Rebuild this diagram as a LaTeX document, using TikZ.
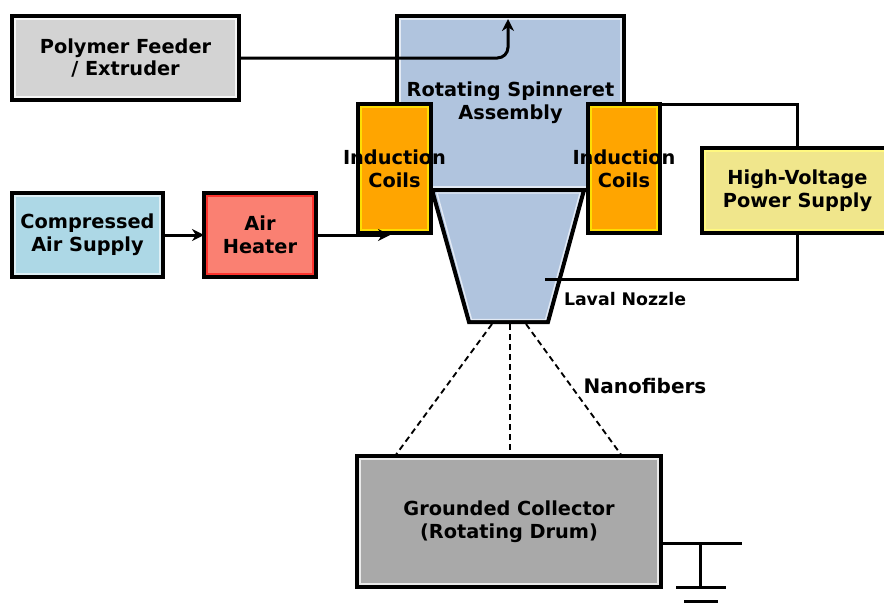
\documentclass[tikz,border=0pt]{standalone}
\usepackage{fontspec}
\setmainfont{DejaVu Sans}
\usetikzlibrary{arrows.meta}
\definecolor{feedgray}{HTML}{D3D3D3}
\definecolor{spinblue}{HTML}{B0C4DE}
\definecolor{coilorange}{HTML}{FFA500}
\definecolor{hvkhaki}{HTML}{F0E68C}
\definecolor{airblue}{HTML}{ADD8E6}
\definecolor{heatsalmon}{HTML}{FA8072}
\definecolor{drumgray}{HTML}{A9A9A9}

\tikzset{
  unit/.style={draw=black,line width=3pt,inner sep=0pt,outer sep=0pt,align=center,
    font=\fontsize{14.5}{17}\selectfont\bfseries},
  rim/.style={path picture={\draw[#1,line width=1.1pt]
    ([shift={(2.4pt,-2.4pt)}]path picture bounding box.north west) rectangle
    ([shift={(-2.4pt,2.4pt)}]path picture bounding box.south east);}},
  tag/.style={font=\fontsize{14.5}{17}\selectfont\bfseries,align=center,inner sep=0pt},
  wire/.style={line width=2.25pt},
  flow/.style={wire,-{Stealth[length=9pt,width=9pt]}},
  fiber/.style={line width=1.4pt,dash pattern=on 4.5pt off 3pt},
}

\begin{document}
\begin{tikzpicture}[x=0.75pt,y=-0.75pt,line join=miter]
\useasboundingbox (0,0) rectangle (884,611);
% boxes
\node[unit,fill=feedgray,rim=white!80!feedgray,minimum width=170.25pt,minimum height=63pt] (feeder) at (125.5,58)
  {Polymer Feeder\\/ Extruder};
\node[unit,fill=airblue,rim=white!60!airblue,minimum width=113.25pt,minimum height=63pt] (airsup) at (87.5,235)
  {Compressed\\Air Supply};
\node[unit,fill=heatsalmon,rim=red!60!heatsalmon,minimum width=84pt,minimum height=63pt] (heater) at (260,235)
  {Air\\Heater};
\node[unit,fill=hvkhaki,rim=yellow!50!white,minimum width=143.25pt,minimum height=63.75pt] (hv) at (797.5,190.5)
  {High-Voltage\\Power Supply};
\node[unit,fill=drumgray,rim=white!75!drumgray,minimum width=228pt,minimum height=98.25pt] (drum) at (509,521.5)
  {Grounded Collector\\(Rotating Drum)};
% spinneret
\node[unit,fill=spinblue,rim=white!65!spinblue,minimum width=170.25pt,minimum height=130.5pt] (spin) at (510.5,103)
  {Rotating Spinneret\\Assembly};
\coordinate (inlet) at (508,19);
\draw[flow,rounded corners=8pt] (feeder.east) -| (inlet);
% laval nozzle
\draw[fill=spinblue,line width=3pt] (432,190) -- (584,190) -- (548,322) -- (469,322) -- cycle;
\draw[white!65!spinblue,line width=1pt] (437,193) -- (580,193) -- (545.5,319.5) -- (471.5,319.5) -- cycle;
% coils
\node[unit,fill=coilorange,rim=yellow!80!orange,minimum width=54.75pt,minimum height=96.75pt] (coilL) at (394.5,168.5) {};
\node[unit,fill=coilorange,rim=yellow!80!orange,minimum width=54pt,minimum height=96.75pt] (coilR) at (624,168.5) {};
\node[tag] (coilLtext) at (coilL) {Induction\\Coils};
\node[tag] (coilRtext) at (coilR) {Induction\\Coils};
% air path
\coordinate (airin) at (390,235);
\draw[flow] (airsup.east) -- (heater.west);
\draw[flow] (heater.east) -- (airin);
% high voltage
\coordinate (tip) at (545,279);
\draw[wire] (coilR.north east) -| (hv.north);
\draw[wire] (hv.south) |- (tip);
% fibers
\coordinate (fibL) at (492,324);
\coordinate (fibM) at (510,324);
\coordinate (fibR) at (526,324);
\draw[fiber] (fibL) -- ([xshift=-85.5pt]drum.north);
\draw[fiber] (fibM) -- (fibM |- drum.north);
\draw[fiber] (fibR) -- ([xshift=84.75pt]drum.north);
% ground
\coordinate (gnd) at (700,543);
\coordinate (gndend) at (742,543);
\coordinate (gndfoot) at (700,587);
\draw[wire] (gnd -| drum.east) -- (gndend);
\draw[wire] (gnd) -- (gndfoot);
\draw[wire] ([xshift=-18pt]gndfoot) -- ([xshift=19.5pt]gndfoot);
\draw[wire] ([xshift=-12pt,yshift=-10.5pt]gndfoot) -- ([xshift=13.5pt,yshift=-10.5pt]gndfoot);
% labels
\node[font=\fontsize{13}{15}\selectfont\bfseries,inner sep=0pt] (laval) at (625,299) {Laval Nozzle};
\node[font=\fontsize{15}{17}\selectfont\bfseries,inner sep=0pt] (fibers) at (645,386) {Nanofibers};
\end{tikzpicture}
\end{document}
